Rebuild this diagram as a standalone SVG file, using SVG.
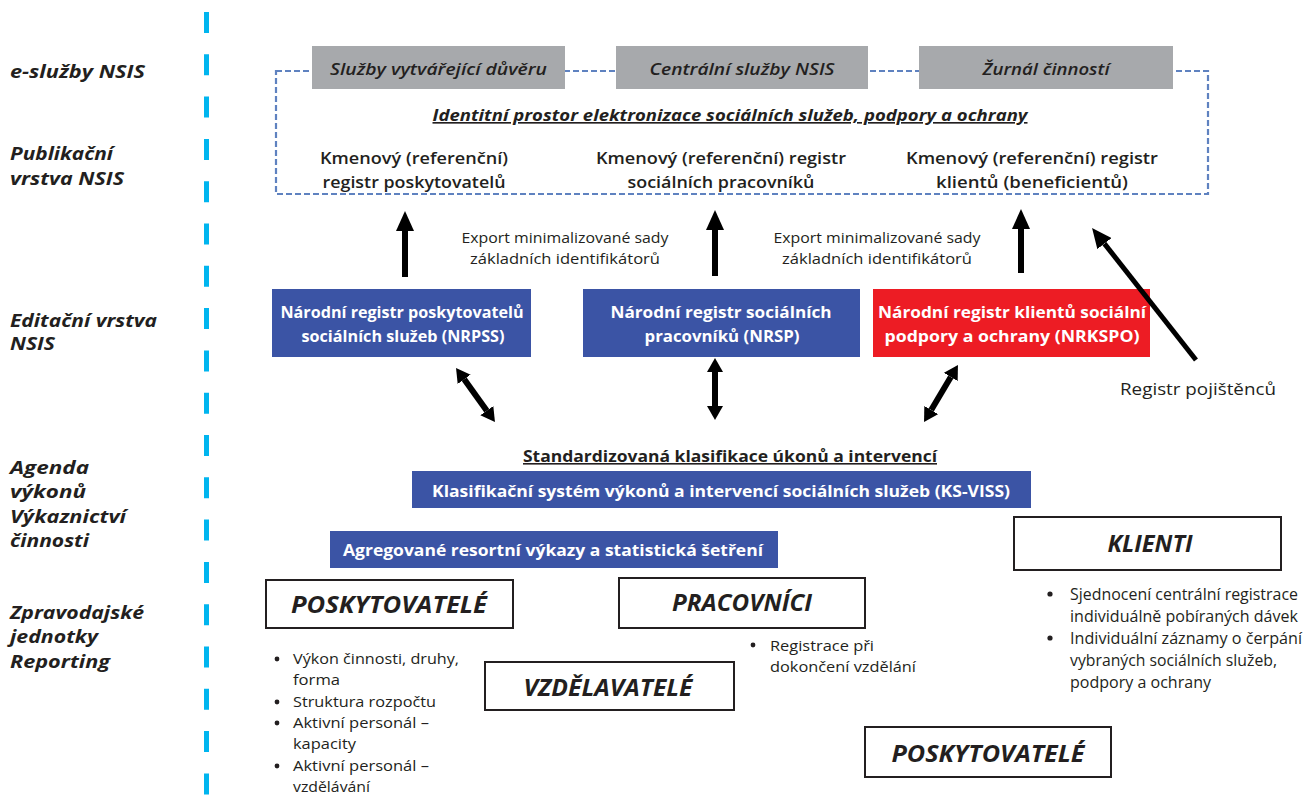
<svg xmlns="http://www.w3.org/2000/svg" width="1312" height="795" viewBox="0 0 1312 795">
<defs>
<style>
text{font-family:"Open Sans","Noto Sans","Liberation Sans",sans-serif;fill:#231f20}
.lbl{font-size:18.5px;font-weight:bold;font-style:italic}
.gray{fill:#a7a9ac}
.gtxt{font-size:17px;font-style:italic;font-weight:600;text-anchor:middle}
.reg{font-size:16.5px;font-weight:600;text-anchor:middle}
.exp{font-size:14.5px;text-anchor:middle}
.blue{fill:#3b54a5}
.red{fill:#ed1c24}
.wt{font-size:16.5px;font-weight:bold;fill:#fff;text-anchor:middle}
.ul{font-size:16px;font-weight:bold;text-anchor:middle;text-decoration:underline}
.box{fill:#fff;stroke:#231f20;stroke-width:2}
.btxt{font-size:23px;font-weight:bold;font-style:italic;text-anchor:middle}
.bul{font-size:14.5px}
.arr{stroke:#000;stroke-width:6;fill:none}
</style>
<marker id="ah" viewBox="0 -9 20 18" refX="0" refY="0" markerWidth="20" markerHeight="18" markerUnits="userSpaceOnUse" orient="auto-start-reverse">
<path d="M0,-9 L20,0 L0,9 z" fill="#000"/>
</marker>
<marker id="ah2" viewBox="0 -8 14 16" refX="0" refY="0" markerWidth="14" markerHeight="16" markerUnits="userSpaceOnUse" orient="auto-start-reverse">
<path d="M0,-8 L14,0 L0,8 z" fill="#000"/>
</marker>
</defs>
<rect width="1312" height="795" fill="#fff"/>

<!-- vertical cyan separator -->
<line x1="206.5" y1="12" x2="206.5" y2="795" stroke="#00b5ef" stroke-width="5" stroke-dasharray="21 21.3"/>

<!-- layer labels -->
<g id="labels">
<text class="lbl" x="10" y="78" textLength="135" lengthAdjust="spacingAndGlyphs">e-služby NSIS</text>
<text class="lbl" x="10" y="160" textLength="103" lengthAdjust="spacingAndGlyphs">Publikační</text>
<text class="lbl" x="10" y="185" textLength="114" lengthAdjust="spacingAndGlyphs">vrstva NSIS</text>
<text class="lbl" x="10" y="327" textLength="147" lengthAdjust="spacingAndGlyphs">Editační vrstva</text>
<text class="lbl" x="10" y="350" textLength="45" lengthAdjust="spacingAndGlyphs">NSIS</text>
<text class="lbl" x="10" y="474" textLength="79" lengthAdjust="spacingAndGlyphs">Agenda</text>
<text class="lbl" x="10" y="498" textLength="76" lengthAdjust="spacingAndGlyphs">výkonů</text>
<text class="lbl" x="10" y="523" textLength="116" lengthAdjust="spacingAndGlyphs">Výkaznictví</text>
<text class="lbl" x="10" y="547" textLength="79" lengthAdjust="spacingAndGlyphs">činnosti</text>
<text class="lbl" x="10" y="619" textLength="134" lengthAdjust="spacingAndGlyphs">Zpravodajské</text>
<text class="lbl" x="10" y="643" textLength="88" lengthAdjust="spacingAndGlyphs">jednotky</text>
<text class="lbl" x="10" y="668" textLength="100" lengthAdjust="spacingAndGlyphs">Reporting</text>
</g>

<!-- publication layer frame -->
<g id="nsis-frame">
<rect x="276" y="71" width="932" height="123" fill="none" stroke="#5f82c0" stroke-width="2.2" stroke-dasharray="6 3"/>
<text x="730" y="121" style="font-size:16.5px;font-weight:bold;font-style:italic;text-anchor:middle;text-decoration:underline" textLength="595" lengthAdjust="spacingAndGlyphs">Identitní prostor elektronizace sociálních služeb, podpory a ochrany</text>
</g>

<g id="svc-duvera">
<rect class="gray" x="312" y="46" width="253" height="43"/>
<text class="gtxt" x="438.5" y="75" textLength="217" lengthAdjust="spacingAndGlyphs">Služby vytvářející důvěru</text>
</g>
<g id="svc-centralni">
<rect class="gray" x="616" y="46" width="252" height="43"/>
<text class="gtxt" x="742" y="75" textLength="185" lengthAdjust="spacingAndGlyphs">Centrální služby NSIS</text>
</g>
<g id="svc-zurnal">
<rect class="gray" x="919" y="46" width="254" height="43"/>
<text class="gtxt" x="1046" y="75" textLength="127" lengthAdjust="spacingAndGlyphs">Žurnál činností</text>
</g>

<g id="kr-poskytovatelu">
<text class="reg" x="414" y="164" textLength="188" lengthAdjust="spacingAndGlyphs">Kmenový (referenční)</text>
<text class="reg" x="414" y="188" textLength="183" lengthAdjust="spacingAndGlyphs">registr poskytovatelů</text>
</g>
<g id="kr-pracovniku">
<text class="reg" x="721" y="164" textLength="250" lengthAdjust="spacingAndGlyphs">Kmenový (referenční) registr</text>
<text class="reg" x="721" y="188" textLength="187" lengthAdjust="spacingAndGlyphs">sociálních pracovníků</text>
</g>
<g id="kr-klientu">
<text class="reg" x="1032" y="164" textLength="252" lengthAdjust="spacingAndGlyphs">Kmenový (referenční) registr</text>
<text class="reg" x="1032" y="188" textLength="192" lengthAdjust="spacingAndGlyphs">klientů (beneficientů)</text>
</g>

<!-- export labels -->
<g id="export-1">
<text class="exp" x="565" y="243" textLength="207" lengthAdjust="spacingAndGlyphs">Export minimalizované sady</text>
<text class="exp" x="565" y="264" textLength="190" lengthAdjust="spacingAndGlyphs">základních identifikátorů</text>
</g>
<g id="export-2">
<text class="exp" x="877" y="243" textLength="207" lengthAdjust="spacingAndGlyphs">Export minimalizované sady</text>
<text class="exp" x="877" y="264" textLength="190" lengthAdjust="spacingAndGlyphs">základních identifikátorů</text>
</g>

<!-- editing layer -->
<g id="nrpss">
<rect class="blue" x="272" y="289" width="259" height="68"/>
<text class="wt" x="402" y="318" textLength="243" lengthAdjust="spacingAndGlyphs">Národní registr poskytovatelů</text>
<text class="wt" x="403" y="342" textLength="203" lengthAdjust="spacingAndGlyphs">sociálních služeb (NRPSS)</text>
</g>
<g id="nrsp">
<rect class="blue" x="583" y="289" width="277" height="68"/>
<text class="wt" x="721" y="318" textLength="221" lengthAdjust="spacingAndGlyphs">Národní registr sociálních</text>
<text class="wt" x="722" y="342" textLength="155" lengthAdjust="spacingAndGlyphs">pracovníků (NRSP)</text>
</g>
<g id="nrkspo">
<rect class="red" x="873" y="289" width="277" height="68"/>
<text class="wt" x="1012" y="318" textLength="268" lengthAdjust="spacingAndGlyphs">Národní registr klientů sociální</text>
<text class="wt" x="1012" y="342" textLength="255" lengthAdjust="spacingAndGlyphs">podpory a ochrany (NRKSPO)</text>
</g>
<g id="registr-pojistencu">
<text x="1120" y="395" style="font-size:16.5px" textLength="156" lengthAdjust="spacingAndGlyphs">Registr pojištěnců</text>
</g>

<!-- classification -->
<g id="standard">
<text class="ul" x="730" y="462" textLength="414" lengthAdjust="spacingAndGlyphs">Standardizovaná klasifikace úkonů a intervencí</text>
</g>
<g id="ks-viss">
<rect class="blue" x="412" y="471" width="619" height="37"/>
<text class="wt" x="721" y="497" style="font-size:16.5px" textLength="578" lengthAdjust="spacingAndGlyphs">Klasifikační systém výkonů a intervencí sociálních služeb (KS-VISS)</text>
</g>
<g id="agregovane">
<rect class="blue" x="330" y="531" width="448" height="37"/>
<text class="wt" x="553" y="556" style="font-size:16.5px" textLength="420" lengthAdjust="spacingAndGlyphs">Agregované resortní výkazy a statistická šetření</text>
</g>

<!-- reporting units -->
<g id="klienti">
<rect class="box" x="1014" y="517" width="267" height="53"/>
<text class="btxt" x="1150" y="552" textLength="85" lengthAdjust="spacingAndGlyphs">KLIENTI</text>
<circle cx="1050" cy="594" r="2.6" fill="#231f20"/>
<circle cx="1050" cy="638" r="2.6" fill="#231f20"/>
<text class="bul" x="1070" y="600" style="font-size:15.5px" textLength="228" lengthAdjust="spacingAndGlyphs">Sjednocení centrální registrace</text>
<text class="bul" x="1070" y="622" style="font-size:15.5px" textLength="228" lengthAdjust="spacingAndGlyphs">individuálně pobíraných dávek</text>
<text class="bul" x="1070" y="644" style="font-size:15.5px" textLength="232" lengthAdjust="spacingAndGlyphs">Individuální záznamy o čerpání</text>
<text class="bul" x="1070" y="666" style="font-size:15.5px" textLength="207" lengthAdjust="spacingAndGlyphs">vybraných sociálních služeb,</text>
<text class="bul" x="1070" y="688" style="font-size:15.5px" textLength="141" lengthAdjust="spacingAndGlyphs">podpory a ochrany</text>
</g>
<g id="poskytovatele-1">
<rect class="box" x="266" y="580" width="247" height="48"/>
<text class="btxt" x="389" y="613" textLength="196" lengthAdjust="spacingAndGlyphs">POSKYTOVATELÉ</text>
<circle cx="277" cy="659" r="2.4" fill="#231f20"/>
<circle cx="277" cy="702" r="2.4" fill="#231f20"/>
<circle cx="277" cy="723" r="2.4" fill="#231f20"/>
<circle cx="277" cy="766" r="2.4" fill="#231f20"/>
<text class="bul" x="293" y="664" textLength="166" lengthAdjust="spacingAndGlyphs">Výkon činnosti, druhy,</text>
<text class="bul" x="293" y="685" textLength="47" lengthAdjust="spacingAndGlyphs">forma</text>
<text class="bul" x="293" y="707" textLength="143" lengthAdjust="spacingAndGlyphs">Struktura rozpočtu</text>
<text class="bul" x="293" y="728" textLength="136" lengthAdjust="spacingAndGlyphs">Aktivní personál –</text>
<text class="bul" x="293" y="749" textLength="63" lengthAdjust="spacingAndGlyphs">kapacity</text>
<text class="bul" x="293" y="771" textLength="136" lengthAdjust="spacingAndGlyphs">Aktivní personál –</text>
<text class="bul" x="293" y="792" textLength="77" lengthAdjust="spacingAndGlyphs">vzdělávání</text>
</g>
<g id="pracovnici">
<rect class="box" x="619" y="578" width="246" height="50"/>
<text class="btxt" x="742" y="611" textLength="140" lengthAdjust="spacingAndGlyphs">PRACOVNÍCI</text>
<circle cx="753" cy="645" r="2.4" fill="#231f20"/>
<text class="bul" x="770" y="651" textLength="104" lengthAdjust="spacingAndGlyphs">Registrace při</text>
<text class="bul" x="770" y="672" textLength="146" lengthAdjust="spacingAndGlyphs">dokončení vzdělání</text>
</g>
<g id="vzdelavatele">
<rect class="box" x="485" y="662" width="249" height="48"/>
<text class="btxt" x="608" y="696" textLength="169" lengthAdjust="spacingAndGlyphs">VZDĚLAVATELÉ</text>
</g>
<g id="poskytovatele-2">
<rect class="box" x="865" y="727" width="246" height="50"/>
<text class="btxt" x="988" y="762" textLength="193" lengthAdjust="spacingAndGlyphs">POSKYTOVATELÉ</text>
</g>

<!-- connectors -->
<g id="connectors">
<line class="arr" x1="405" y1="277" x2="405" y2="231" marker-end="url(#ah)"/>
<line class="arr" x1="715" y1="276" x2="715" y2="230" marker-end="url(#ah)"/>
<line class="arr" x1="1021" y1="273" x2="1021" y2="229" marker-end="url(#ah)"/>
<line class="arr" x1="1196" y1="360" x2="1104.4" y2="243.6" marker-end="url(#ah)" style="stroke-width:5"/>
<line class="arr" x1="464.2" y1="379.3" x2="486.8" y2="410.7" marker-start="url(#ah2)" marker-end="url(#ah2)"/>
<line class="arr" x1="715" y1="372" x2="715" y2="406" marker-start="url(#ah2)" marker-end="url(#ah2)"/>
<line class="arr" x1="950.8" y1="377" x2="931.2" y2="410" marker-start="url(#ah2)" marker-end="url(#ah2)"/>
</g>
</svg>
